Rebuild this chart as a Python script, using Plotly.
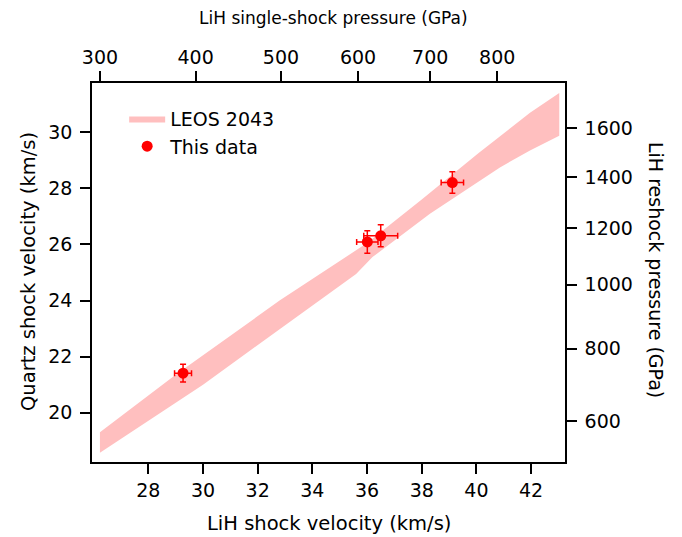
import plotly.graph_objects as go

# LEOS 2043 band (LiH Us vs quartz Us)
band_upper_x = [26.23, 29.0, 32.8, 36.0, 38.0, 40.07, 41.96, 43.03]
band_upper_y = [19.30, 21.35, 24.0, 26.05, 27.6, 29.25, 30.70, 31.40]
band_lower_x = [26.23, 30.0, 35.6, 36.2, 38.3, 40.86, 41.96, 43.03]
band_lower_y = [18.57, 21.0, 24.95, 25.55, 27.1, 28.75, 29.35, 29.88]

# measured data
lih_us = [29.27, 36.01, 36.50, 39.12]
lih_us_err = [0.31, 0.39, 0.62, 0.41]
qz_us = [21.41, 26.09, 26.31, 28.21]
qz_us_err = [0.32, 0.40, 0.39, 0.38]

# top axis: LiH single-shock pressure (GPa) at LiH Us positions
top_tick_pos = [26.23, 29.73, 32.85, 35.67, 38.31, 40.76]
top_tick_text = ["300", "400", "500", "600", "700", "800"]
# right axis: LiH reshock pressure (GPa) at quartz Us positions
right_tick_pos = [19.69, 22.28, 24.56, 26.58, 28.40, 30.14]
right_tick_text = ["600", "800", "1000", "1200", "1400", "1600"]

xr = [25.94, 43.24]
yr = [18.24, 31.76]
FONT = "DejaVu Sans"
FS = 19
pink = "#FFBFBF"
red = "#FF0000"

L, R, T, B = 92, 117, 83, 75
W, H = 682, 537
PW, PH = W - L - R, H - T - B


def px2paper(x, y):
    return (x - L) / PW, (H - B - y) / PH


fig = go.Figure()
fig.add_trace(go.Scatter(
    x=band_upper_x + band_lower_x[::-1],
    y=band_upper_y + band_lower_y[::-1],
    fill="toself", fillcolor=pink, mode="lines", line=dict(width=0, color=pink),
    name="LEOS 2043", hoverinfo="skip"))
fig.add_trace(go.Scatter(
    x=lih_us, y=qz_us, mode="markers", name="This data",
    marker=dict(color=red, size=11),
    error_x=dict(type="data", array=lih_us_err, color=red, thickness=1.5, width=3),
    error_y=dict(type="data", array=qz_us_err, color=red, thickness=1.5, width=3)))
fig.add_trace(go.Scatter(x=[xr[0]], y=[yr[0]], xaxis="x2", yaxis="y2",
                         mode="markers", marker=dict(opacity=0), showlegend=False, hoverinfo="skip"))

axcommon = dict(showgrid=False, zeroline=False, showline=True, linecolor="black", linewidth=1.5,
                ticks="outside", ticklen=10, tickwidth=1.5, tickcolor="black",
                tickfont=dict(family=FONT, size=FS, color="black"))

annots = []
for txt, (x, y), ang, fs in [
    ("LiH shock velocity (km/s)", (329, 523), 0, 19.5),
    ("LiH single-shock pressure (GPa)", (333, 18), 0, 17),
    ("Quartz shock velocity (km/s)", (28, 272), -90, 19.5),
    ("LiH reshock pressure (GPa)", (656, 270), 90, 19),
]:
    px, py = px2paper(x, y)
    annots.append(dict(text=txt, x=px, y=py, xref="paper", yref="paper", xanchor="center",
                       yanchor="middle", showarrow=False, textangle=ang,
                       font=dict(family=FONT, size=fs, color="black")))

fig.update_layout(
    width=W, height=H,
    margin=dict(l=L, r=R, t=T, b=B),
    paper_bgcolor="white", plot_bgcolor="white",
    font=dict(family=FONT, size=FS, color="black"),
    xaxis=dict(range=xr, tickvals=[28, 30, 32, 34, 36, 38, 40, 42], ticklabelstandoff=0, **axcommon),
    yaxis=dict(range=yr, tickvals=[20, 22, 24, 26, 28, 30], ticklabelstandoff=4, **axcommon),
    xaxis2=dict(range=xr, overlaying="x", side="top", anchor="y", tickvals=top_tick_pos,
                ticktext=top_tick_text, ticklabelstandoff=0, **axcommon),
    yaxis2=dict(range=yr, overlaying="y", side="right", anchor="x", tickvals=right_tick_pos,
                ticktext=right_tick_text, ticklabelstandoff=4, **axcommon),
    legend=dict(x=0.068, y=0.956, xanchor="left", yanchor="top", bgcolor="rgba(0,0,0,0)",
                font=dict(family=FONT, size=FS), itemwidth=36),
    showlegend=True,
    annotations=annots,
)
fig.write_html("out.html")
